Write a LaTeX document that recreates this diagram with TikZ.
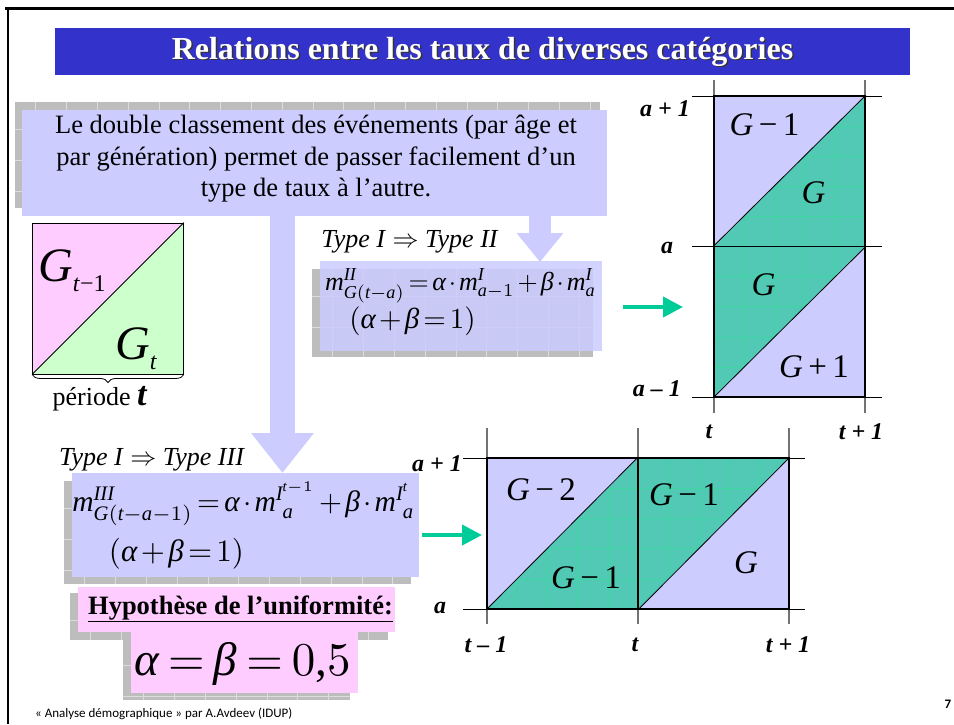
\documentclass[tikz,border=0pt]{standalone}
\usepackage{fontspec}
\setmainfont{Liberation Serif}
\newfontfamily\footfont{Carlito}
\newfontfamily\mlf[NFSSFamily=mlf]{Liberation Serif}
\DeclareSymbolFont{letters}{TU}{mlf}{m}{it}
\DeclareSymbolFont{operators}{TU}{mlf}{m}{n}
\Umathchardef\alpha=0 \symletters "03B1\relax
\Umathchardef\beta=0 \symletters "03B2\relax
\thickmuskip=2.5mu plus 1mu
\medmuskip=2mu plus 1mu
\usetikzlibrary{arrows.meta,decorations.pathreplacing,calc}
\definecolor{titleblue}{HTML}{3333CC}
\definecolor{lav}{HTML}{CCCCFF}
\definecolor{tealc}{HTML}{52C9B4}
\definecolor{tealgrid}{HTML}{3DD6A3}
\definecolor{pinkc}{HTML}{FFCCFF}
\definecolor{greenc}{HTML}{CCFFCC}
\definecolor{arrgreen}{HTML}{00CC99}
\definecolor{shgrey}{HTML}{BDBDBD}
\definecolor{shline}{HTML}{DCDCDC}
\newcommand{\fs}[1]{\fontsize{#1}{#1}\selectfont}
\newcommand{\shadowgrid}[4]{%
  \fill[shgrey] (#1,#2) rectangle (#3,#4);
  \begin{scope}
    \clip (#1,#2) rectangle (#3,#4);
    \foreach \gk in {1,...,30} {\draw[shline, line width=0.7pt] ({#1+30.8*\gk-10},#2) -- ({#1+30.8*\gk-10},#4);}
    \foreach \gk in {1,...,5} {\draw[shline, line width=0.7pt] (#1,{#2+30.8*\gk-3}) -- (#3,{#2+30.8*\gk-3});}
  \end{scope}}
\tikzset{
  lavbox/.style={fill=lav, inner sep=0pt},
  pinkbox/.style={fill=pinkc, inner sep=0pt},
  greenarrow/.style={draw=arrgreen, line width=4pt, -{Triangle[length=20pt,width=20pt]}},
  axislbl/.style={font=\fs{24}\bfseries\itshape, inner sep=0pt},
  regionlbl/.style={font=\fs{33}, inner sep=0pt},
  mathlbl/.style={font=\fs{10}, inner sep=0pt, scale=#1},
  extv/.style={draw=black!55, line width=1.4pt},
  exth/.style={draw=black, line width=0.9pt},
  border/.style={draw=black, line width=1.6pt},
  diag/.style={draw=black, line width=0.8pt},
  plain/.style={inner sep=0pt}
}
\newcommand{\Gm}[2]{\textit{G}\,#1\,#2}
\begin{document}
\begin{tikzpicture}[x=1pt,y=-1pt]
\useasboundingbox (0,0) rectangle (954,724);
\fill[white] (0,0) rectangle (954,724);
% frame
\draw[line width=3pt] (5,8.5) -- (954,8.5);
\draw[line width=2.5pt] (8,7) -- (8,724);
% title
\node[fill=titleblue, minimum width=855pt, minimum height=47pt, inner sep=0pt] (titlebar) at (482.5,51.5) {};
\node[plain, font=\fs{32}\bfseries, text=black!80] (titleshadow) at (484,53) {Relations entre les taux de diverses catégories};
\node[plain, font=\fs{32}\bfseries, text=white] (title) at (482.5,51.5) {Relations entre les taux de diverses catégories};
% top box
\shadowgrid{15}{102}{600}{208}
\node[lavbox, minimum width=585pt, minimum height=106pt] (topbox) at (314.5,163) {};
\node[plain, font=\fontsize{26.5}{31.5}\selectfont, align=center] (toptext) at (316,159) {Le double classement des événements (par âge et\\par génération) permet de passer facilement d’un\\type de taux à l’autre.};
% formula 2
\shadowgrid{312}{269}{593}{357}
\node[lavbox, fill opacity=0.85, minimum width=282pt, minimum height=90pt] (f2box) at (461,306) {};
\node[mathlbl=2.6] (t2) at (410,242) {\textit{Type I} $\Rightarrow$ \textit{Type II}};
\node[mathlbl=2.6] (f2a) at (460.5,286) {$m^{II}_{G(t-a)}=\alpha\cdot m^{I}_{a-1}+\beta\cdot m^{I}_{a}$};
\node[mathlbl=2.9] (f2b) at (412.5,321) {$(\alpha+\beta=1)$};
% formula 3
\shadowgrid{64}{481}{411}{584}
\node[lavbox, minimum width=347pt, minimum height=104pt] (f3box) at (245.5,525) {};
\node[mathlbl=2.6] (t3) at (152,460) {\textit{Type I} $\Rightarrow$ \textit{Type III}};
\node[mathlbl=2.95] (f3a) at (243.5,504) {$m^{III}_{G(t-a-1)}=\alpha\cdot m^{I^{t-1}}_{\phantom{I}a}+\beta\cdot m^{I^{t}}_{\phantom{I}a}$};
\node[mathlbl=3.1] (f3b) at (176.5,554) {$(\alpha+\beta=1)$};
% block arrows
\coordinate (a1s) at (282.5,216);
\coordinate (a1e) at (282.5,473);
\draw[lav, line width=25pt, -{Triangle[length=40pt,width=60pt]}] (a1s) -- (a1e);
\coordinate (a2s) at (540,216);
\coordinate (a2e) at (540,262);
\draw[lav, line width=22pt, -{Triangle[length=29pt,width=45pt]}] (a2s) -- (a2e);
% pink/green square
\fill[pinkc] (32,223) -- (184,223) -- (32,374) -- cycle;
\fill[greenc] (184,223) -- (184,374) -- (32,374) -- cycle;
\node[draw=black, line width=0.9pt, minimum size=151pt, inner sep=0pt] (gsq) at (108,298.5) {};
\draw[diag] (gsq.south west) -- (gsq.north east);
\node[plain, anchor=base west, font=\fs{48}] (gt1) at (38,281) {\textit{G}\raisebox{-0.22em}{\fs{24}\textit{t}−1}};
\node[plain, anchor=base west, font=\fs{48}] (gt) at (115,359) {\textit{G}\raisebox{-0.22em}{\fs{24}\textit{t}}};
\draw[decorate, decoration={brace, mirror, amplitude=8pt}, line width=0.8pt] (gsq.south west) -- (gsq.south east);
\node[plain, font=\fs{26}] (per) at (100,399) {période \textbf{\textit{\fs{34}t}}};
% green arrows
\coordinate (g1s) at (623,307);
\coordinate (g1e) at (683,307);
\draw[greenarrow] (g1s) -- (g1e);
\coordinate (g2s) at (422,535);
\coordinate (g2e) at (482,535);
\draw[greenarrow] (g2s) -- (g2e);
% diagram 1
\fill[lav] (714,96) rectangle (865,397);
\fill[tealc] (714,246.5) -- (865,96) -- (865,246.5) -- cycle;
\fill[tealc] (714,397) -- (714,246.5) -- (865,246.5) -- cycle;
\begin{scope}
  \clip (714,246.5) -- (865,96) -- (865,246.5) -- cycle (714,397) -- (714,246.5) -- (865,246.5) -- cycle;
  \foreach \gk in {1,...,4} {\draw[tealgrid, line width=0.6pt] ({714+30.2*\gk},96) -- ({714+30.2*\gk},397);}
  \foreach \gk in {1,...,9} {\draw[tealgrid, line width=0.6pt] (714,{96+30.1*\gk}) -- (865,{96+30.1*\gk});}
\end{scope}
\draw[extv] (714,80) -- (714,413);
\draw[extv] (865,80) -- (865,413);
\draw[exth] (692,96) -- (882,96);
\draw[exth] (692,246.5) -- (882,246.5);
\draw[exth] (692,397) -- (882,397);
\node[border, minimum width=151pt, minimum height=301pt, inner sep=0pt] (d1) at (789.5,246.5) {};
\draw[border] (d1.west) -- (d1.east);
\draw[diag] (d1.west) -- (d1.north east);
\draw[diag] (d1.south west) -- (d1.east);
\node[axislbl, anchor=east] (d1a1) at (690,109) {a + 1};
\node[axislbl] (d1a) at (667,248) {a};
\node[axislbl, anchor=east] (d1am) at (681,389) {a – 1};
\node[axislbl] (d1t) at (709,432) {t};
\node[axislbl] (d1t1) at (861,432) {t + 1};
\node[regionlbl] (r1) at (764.5,125) {\Gm{−}{1}};
\node[regionlbl] (r2) at (813.5,193) {\textit{G}};
\node[regionlbl] (r3) at (763.5,285) {\textit{G}};
\node[regionlbl] (r4) at (814,367) {\Gm{+}{1}};
% diagram 2
\fill[lav] (487,458) rectangle (789,609);
\fill[tealc] (487,609) -- (638,458) -- (638,609) -- cycle;
\fill[tealc] (638,609) -- (638,458) -- (789,458) -- cycle;
\begin{scope}
  \clip (487,609) -- (638,458) -- (789,458) -- (638,609) -- cycle;
  \foreach \gk in {1,...,9} {\draw[tealgrid, line width=0.6pt] ({487+30.2*\gk},458) -- ({487+30.2*\gk},609);}
  \foreach \gk in {1,...,4} {\draw[tealgrid, line width=0.6pt] (487,{458+30.2*\gk}) -- (789,{458+30.2*\gk});}
\end{scope}
\draw[extv] (487,428) -- (487,624);
\draw[extv] (638,428) -- (638,624);
\draw[extv] (789,428) -- (789,624);
\draw[exth] (463,458) -- (805,458);
\draw[exth] (463,609) -- (805,609);
\node[border, minimum width=302pt, minimum height=151pt, inner sep=0pt] (d2) at (638,533.5) {};
\draw[border] (d2.north) -- (d2.south);
\draw[diag] (d2.south west) -- (d2.north);
\draw[diag] (d2.south) -- (d2.north east);
\node[axislbl, anchor=east] (d2a1) at (462,464) {a + 1};
\node[axislbl] (d2a) at (440,608) {a};
\node[axislbl] (d2tm) at (486,645) {t – 1};
\node[axislbl] (d2t) at (635,645) {t};
\node[axislbl] (d2t1) at (788,645) {t + 1};
\node[regionlbl] (s1) at (541,490) {\Gm{−}{2}};
\node[regionlbl] (s2) at (684,495) {\Gm{−}{1}};
\node[regionlbl] (s3) at (586,578) {\Gm{−}{1}};
\node[regionlbl] (s4) at (746,563) {\textit{G}};
% uniformity
\shadowgrid{70}{593}{388}{640}
\node[pinkbox, minimum width=317pt, minimum height=45pt] (hyp) at (236.5,609.5) {};
\node[plain, font=\fs{26.5}\bfseries] (hyptext) at (240.5,609) {\underline{Hypothèse de l’uniformité:}};
\shadowgrid{123}{638}{350}{700}
\node[pinkbox, minimum width=227pt, minimum height=61pt] (eqbox) at (244.5,662.5) {};
\node[mathlbl=4.7] (eq) at (242.5,664) {\thickmuskip=3.5mu$\alpha=\beta=0\mbox{,}5$};
% footer
\node[plain, font=\footfont\fs{13}, anchor=west] (foot) at (35,714) {« Analyse démographique » par A.Avdeev (IDUP)};
\node[plain, font=\footfont\bfseries\fs{13}] (pagenum) at (948,704) {7};
\end{tikzpicture}
\end{document}
